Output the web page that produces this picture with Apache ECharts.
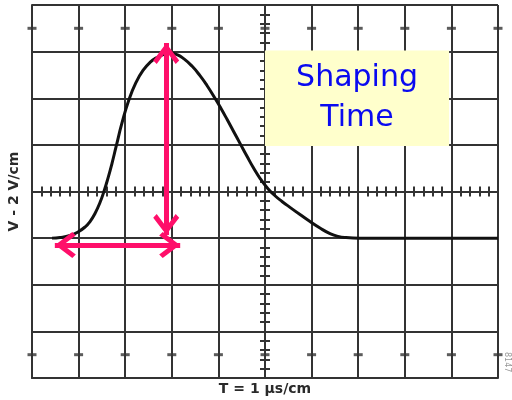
<!DOCTYPE html>
<html><head><meta charset="utf-8">
<script src="https://cdn.jsdelivr.net/npm/echarts@6/dist/echarts.min.js"></script>
<style>html,body{margin:0;padding:0;background:#fff}#c{width:512px;height:400px}</style>
</head><body><div id="c"></div>
<script>
// time relative to screen centre (µs), 1 µs per division
const timeUs = [-4.571, -4.399, -4.185, -4.013, -3.863, -3.755, -3.648, -3.541, -3.455, -3.369, -3.283, -3.197, -3.069, -2.918, -2.768, -2.618, -2.468, -2.318, -2.167, -2.039, -1.888, -1.738, -1.567, -1.395, -1.245, -1.073, -0.944, -0.815, -0.665, -0.536, -0.386, -0.258, -0.107, 0.064, 0.215, 0.365, 0.536, 0.751, 0.966, 1.180, 1.395, 1.567, 1.738, 2.039, 3.0, 4.0, 5.0];
// voltage (V), 2 V per division
const volts  = [-2.0, -1.974, -1.888, -1.738, -1.524, -1.288, -0.944, -0.472, 0.009, 0.575, 1.210, 1.910, 2.940, 3.948, 4.678, 5.193, 5.536, 5.751, 5.888, 5.936, 5.869, 5.689, 5.380, 4.968, 4.547, 3.998, 3.560, 3.097, 2.541, 2.064, 1.509, 1.049, 0.564, 0.118, -0.182, -0.427, -0.680, -0.989, -1.290, -1.569, -1.805, -1.925, -1.976, -2.0, -2.0, -2.0, -2.0];
const xLabel = 'T = 1 µs/cm';
const yLabel = 'V - 2 V/cm';
const boxText = 'Shaping\nTime';
const boxRange = [[0, 1.95], [3.95, 6.05]];
const arrowV = [[-2.12, -1.87], [-2.12, 6.37]];
const arrowH = [[-4.51, -2.3], [-1.82, -2.3]];
const graticuleX = [-5, -4, -3, -2, -1, 0, 1, 2, 3, 4, 5];
const dashLevels = [-7, 7];

const GRID = '#333';
const PINK = '#FF0F6A';
// chevron with its apex at the centre of the symbol box (invisible point extends the box)
const chevron = 'path://M13,-21 L13.01,-21 L13,-21 Z M13,0 L26,17 L22.5,20.5 L13,8 L3.5,20.5 L0,17 Z';

const dashData = [];
dashLevels.forEach(v => graticuleX.forEach(x => dashData.push([x, v])));

const baseX = {type: 'value', min: -5, max: 5, interval: 1};
const baseY = {type: 'value', min: -8, max: 8, interval: 2};
const centreTick = {show: true, length: 5, lineStyle: {color: GRID, width: 2}};
const centreMinor = {show: true, splitNumber: 5, length: 5, lineStyle: {color: GRID, width: 2}};

const chart = echarts.init(document.getElementById('c'));
chart.setOption({
  animation: false,
  grid: {left: 32, top: 5, right: 14, bottom: 22, outerBoundsMode: 'none'},
  xAxis: [
    Object.assign({}, baseX, {
      position: 'bottom',
      name: xLabel, nameLocation: 'middle', nameGap: 4,
      nameTextStyle: {fontFamily: 'DejaVu Sans', fontWeight: 'bold', fontSize: 14, color: '#2a2a2a', verticalAlign: 'top'},
      axisLine: {show: true, onZero: false, lineStyle: {color: GRID, width: 2}},
      axisTick: {show: false}, axisLabel: {show: false},
      splitLine: {show: true, lineStyle: {color: GRID, width: 2}}
    }),
    Object.assign({}, baseX, {
      position: 'bottom',
      axisLine: {show: true, onZero: true, onZeroAxisIndex: 0, lineStyle: {color: GRID, width: 2}},
      axisTick: centreTick, minorTick: centreMinor,
      axisLabel: {show: false}, splitLine: {show: false}
    }),
    Object.assign({}, baseX, {
      position: 'top',
      axisLine: {show: true, onZero: true, onZeroAxisIndex: 0, lineStyle: {color: GRID, width: 2}},
      axisTick: centreTick, minorTick: centreMinor,
      axisLabel: {show: false}, splitLine: {show: false}
    })
  ],
  yAxis: [
    Object.assign({}, baseY, {
      position: 'left',
      name: yLabel, nameLocation: 'middle', nameGap: 11, nameRotate: 90,
      nameTextStyle: {fontFamily: 'DejaVu Sans', fontWeight: 'bold', fontSize: 14, color: '#2a2a2a'},
      axisLine: {show: true, onZero: false, lineStyle: {color: GRID, width: 2}},
      axisTick: {show: false}, axisLabel: {show: false},
      splitLine: {show: true, lineStyle: {color: GRID, width: 2}}
    }),
    Object.assign({}, baseY, {
      position: 'left',
      axisLine: {show: true, onZero: true, onZeroAxisIndex: 0, lineStyle: {color: GRID, width: 2}},
      axisTick: centreTick, minorTick: centreMinor,
      axisLabel: {show: false}, splitLine: {show: false}
    }),
    Object.assign({}, baseY, {
      position: 'right',
      axisLine: {show: true, onZero: true, onZeroAxisIndex: 0, lineStyle: {color: GRID, width: 2}},
      axisTick: centreTick, minorTick: centreMinor,
      axisLabel: {show: false}, splitLine: {show: false}
    })
  ],
  graphic: [{
    type: 'text', left: 503, top: 352, rotation: -Math.PI / 2,
    style: {text: '8147', fill: '#999', font: '8px "DejaVu Sans"'}
  }],
  series: [
    {
      type: 'scatter', xAxisIndex: 0, yAxisIndex: 0, silent: true,
      symbol: 'rect', symbolSize: [9, 3], itemStyle: {color: GRID},
      data: dashData, z: 1
    },
    {
      type: 'line', xAxisIndex: 0, yAxisIndex: 0, silent: true,
      data: timeUs.map((t, i) => [t, volts[i]]),
      smooth: 0.5, showSymbol: false, symbol: 'none',
      lineStyle: {color: '#111', width: 3},
      markArea: {
        silent: true,
        itemStyle: {color: '#FFFFCC'},
        label: {show: true, position: 'inside', formatter: boxText, color: '#0A0AF0',
                fontFamily: 'DejaVu Sans', fontSize: 30, lineHeight: 40, align: 'center'},
        data: [[{coord: boxRange[0]}, {coord: boxRange[1]}]]
      },
      markLine: {
        silent: true, animation: false,
        symbol: [chevron, chevron], symbolSize: [26, 42],
        label: {show: false},
        lineStyle: {color: PINK, width: 5, type: 'solid'},
        itemStyle: {color: PINK},
        data: [
          [{coord: arrowV[0]}, {coord: arrowV[1]}],
          [{coord: arrowH[0]}, {coord: arrowH[1]}]
        ]
      }
    }
  ]
});
</script></body></html>
